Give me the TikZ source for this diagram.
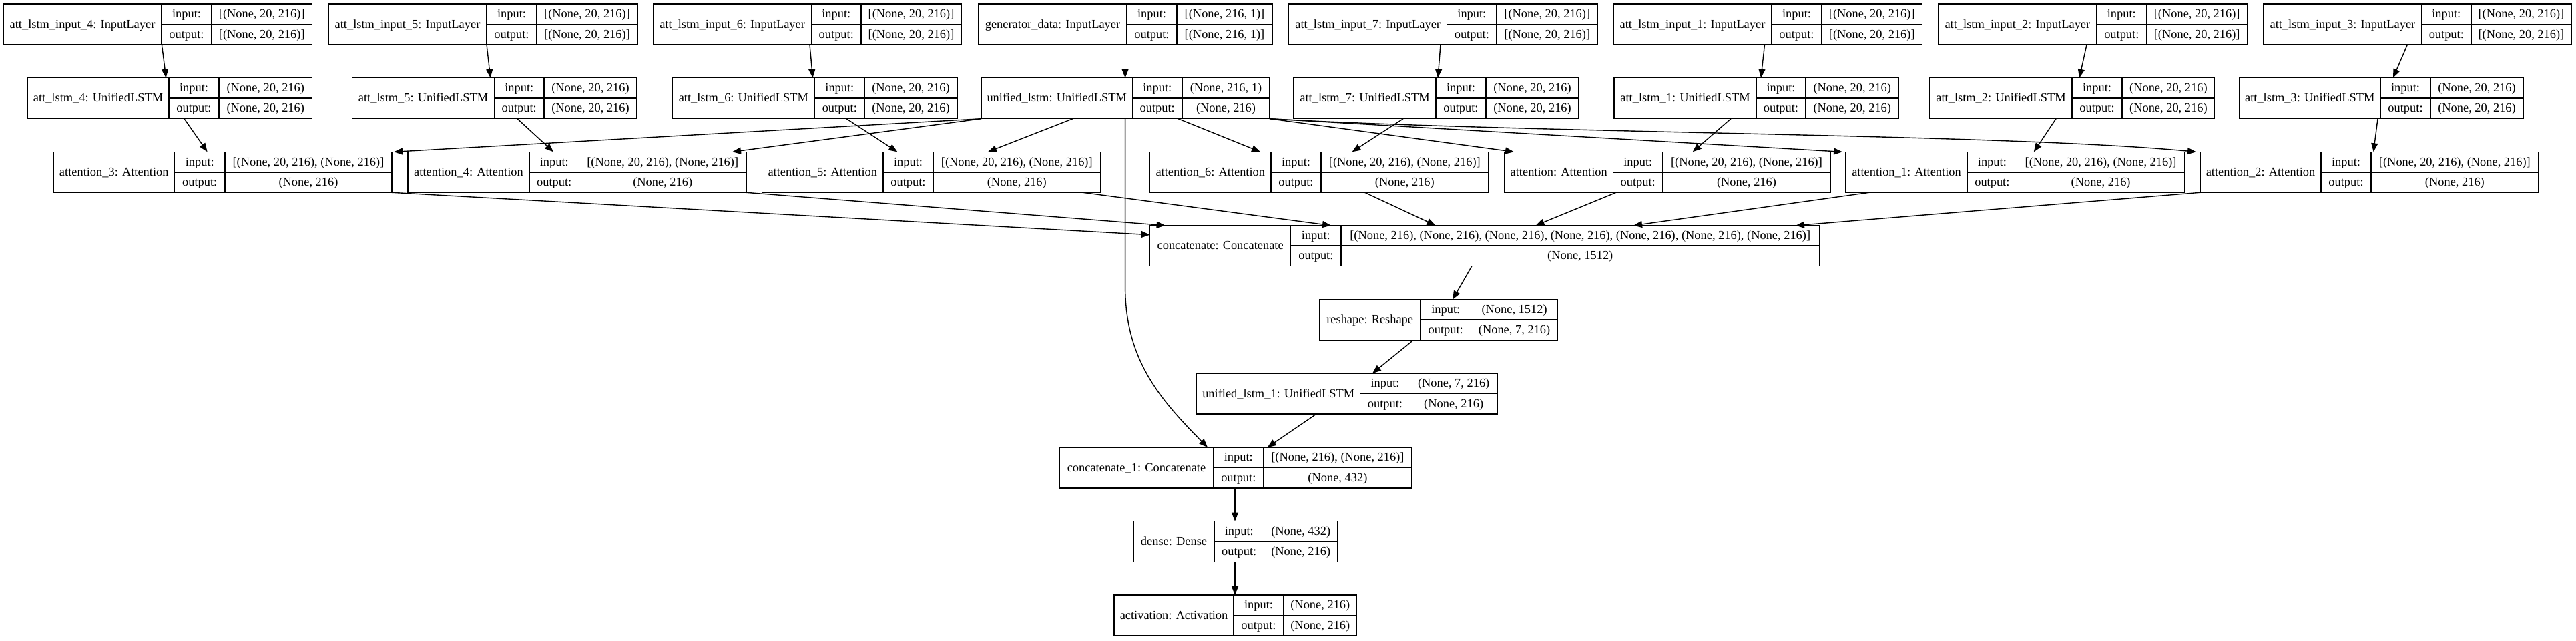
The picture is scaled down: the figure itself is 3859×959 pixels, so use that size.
\documentclass[tikz,border=0pt]{standalone}
\usepackage{fontspec}
\setmainfont{Liberation Serif}
\usetikzlibrary{arrows.meta}
\tikzset{
  recbox/.style={draw=black,line width=0.75pt,anchor=north west,minimum height=30.5pt,inner sep=0pt,outer sep=0pt},
  recline/.style={draw=black,line width=0.75pt},
  rectext/.style={font=\fontsize{9.2}{11}\selectfont,inner sep=0pt,text height=7pt,text depth=1.5pt},
  conn/.style={draw=black,line width=0.7pt,-{Triangle[length=6.5pt,width=5pt]}},
}
% id, left, div1, div2, right, top, name, input, output
\newcommand{\layer}[9]{%
  \node[recbox,minimum width={(#5-#2)*0.5pt}] (#1) at (#2,#6) {};
  \draw[recline] (#3,#6) -- (#3,{#6+61}) (#4,#6) -- (#4,{#6+61}) (#3,{#6+30.5}) -- (#5,{#6+30.5});
  \node[rectext] (#1-name) at ({(#2+#3)/2},{#6+30.5}) {#7};
  \node[rectext] (#1-inl) at ({(#3+#4)/2},{#6+15.25}) {input:};
  \node[rectext] (#1-outl) at ({(#3+#4)/2},{#6+45.75}) {output:};
  \node[rectext] (#1-in) at ({(#4+#5)/2},{#6+15.25}) {#8};
  \node[rectext] (#1-out) at ({(#4+#5)/2},{#6+45.75}) {#9};
}
\begin{document}
\begin{tikzpicture}[x=0.5pt,y=-0.5pt]
  \fill[white] (0,0) rectangle (3859,959);
  \layer{inp4}{5}{242}{317}{467.5}{6}{att\_lstm\_input\_4: InputLayer}{[(None, 20, 216)]}{[(None, 20, 216)]}
  \layer{inp5}{492}{729}{804}{955}{6}{att\_lstm\_input\_5: InputLayer}{[(None, 20, 216)]}{[(None, 20, 216)]}
  \layer{inp6}{978.6}{1215.6}{1290}{1440}{6}{att\_lstm\_input\_6: InputLayer}{[(None, 20, 216)]}{[(None, 20, 216)]}
  \layer{gen}{1466}{1688}{1763}{1906}{6}{generator\_data: InputLayer}{[(None, 216, 1)]}{[(None, 216, 1)]}
  \layer{inp7}{1930.7}{2167.7}{2242}{2393.5}{6}{att\_lstm\_input\_7: InputLayer}{[(None, 20, 216)]}{[(None, 20, 216)]}
  \layer{inp1}{2417}{2654}{2729}{2879.5}{6}{att\_lstm\_input\_1: InputLayer}{[(None, 20, 216)]}{[(None, 20, 216)]}
  \layer{inp2}{2903.7}{3141}{3215.6}{3366.7}{6}{att\_lstm\_input\_2: InputLayer}{[(None, 20, 216)]}{[(None, 20, 216)]}
  \layer{inp3}{3391}{3627.8}{3701.8}{3852}{6}{att\_lstm\_input\_3: InputLayer}{[(None, 20, 216)]}{[(None, 20, 216)]}

  \layer{lstm4}{41}{253}{328}{467.5}{116.7}{att\_lstm\_4: UnifiedLSTM}{(None, 20, 216)}{(None, 20, 216)}
  \layer{lstm5}{527.5}{740.5}{815}{954}{116.7}{att\_lstm\_5: UnifiedLSTM}{(None, 20, 216)}{(None, 20, 216)}
  \layer{lstm6}{1007}{1220.7}{1295}{1434}{116.7}{att\_lstm\_6: UnifiedLSTM}{(None, 20, 216)}{(None, 20, 216)}
  \layer{unified}{1470}{1696.5}{1771}{1902}{116.7}{unified\_lstm: UnifiedLSTM}{(None, 216, 1)}{(None, 216)}
  \layer{lstm7}{1938}{2151}{2226}{2365}{116.7}{att\_lstm\_7: UnifiedLSTM}{(None, 20, 216)}{(None, 20, 216)}
  \layer{lstm1}{2418}{2631}{2705}{2844.5}{116.7}{att\_lstm\_1: UnifiedLSTM}{(None, 20, 216)}{(None, 20, 216)}
  \layer{lstm2}{2891}{3104}{3179}{3317.7}{116.7}{att\_lstm\_2: UnifiedLSTM}{(None, 20, 216)}{(None, 20, 216)}
  \layer{lstm3}{3354.4}{3566}{3641}{3780}{116.7}{att\_lstm\_3: UnifiedLSTM}{(None, 20, 216)}{(None, 20, 216)}

  \layer{att3}{80}{261.5}{337}{587}{227.3}{attention\_3: Attention}{[(None, 20, 216), (None, 216)]}{(None, 216)}
  \layer{att4}{611}{793}{867.5}{1118}{227.3}{attention\_4: Attention}{[(None, 20, 216), (None, 216)]}{(None, 216)}
  \layer{att5}{1141.6}{1323}{1398}{1648.6}{227.3}{attention\_5: Attention}{[(None, 20, 216), (None, 216)]}{(None, 216)}
  \layer{att6}{1722.6}{1904}{1979}{2229.6}{227.3}{attention\_6: Attention}{[(None, 20, 216), (None, 216)]}{(None, 216)}
  \layer{att}{2254}{2416.5}{2491}{2742}{227.3}{attention: Attention}{[(None, 20, 216), (None, 216)]}{(None, 216)}
  \layer{att1}{2765}{2947}{3021.7}{3272.5}{227.3}{attention\_1: Attention}{[(None, 20, 216), (None, 216)]}{(None, 216)}
  \layer{att2}{3296}{3477}{3552}{3802.7}{227.3}{attention\_2: Attention}{[(None, 20, 216), (None, 216)]}{(None, 216)}

  \layer{concat}{1722.6}{1933.7}{2009}{2725.5}{337.7}{concatenate: Concatenate}{[(None, 216), (None, 216), (None, 216), (None, 216), (None, 216), (None, 216), (None, 216)]}{(None, 1512)}
  \layer{reshape}{1976.4}{2128}{2203.5}{2333.6}{448.7}{reshape: Reshape}{(None, 1512)}{(None, 7, 216)}
  \layer{ulstm1}{1792.7}{2037.7}{2112.3}{2243}{559}{unified\_lstm\_1: UnifiedLSTM}{(None, 7, 216)}{(None, 216)}
  \layer{concat1}{1587.4}{1817.6}{1893}{2114.8}{670}{concatenate\_1: Concatenate}{[(None, 216), (None, 216)]}{(None, 432)}
  \layer{dense}{1698}{1819}{1893.5}{2003.9}{780.7}{dense: Dense}{(None, 432)}{(None, 216)}
  \layer{act}{1669}{1848}{1923}{2032.6}{891}{activation: Activation}{(None, 216)}{(None, 216)}

  % inputs into the lstm layers
  \draw[conn] (inp4.south-|242.4,0) -- (lstm4.north-|248.7,0);
  \draw[conn] (inp5.south-|729,0) -- (lstm5.north-|734.7,0);
  \draw[conn] (inp6.south-|1213,0) -- (lstm6.north-|1217.5,0);
  \draw[conn] (gen.south-|1685.6,0) -- (unified.north-|1685.6,0);
  \draw[conn] (inp7.south-|2158,0) -- (lstm7.north-|2154,0);
  \draw[conn] (inp1.south-|2643.5,0) -- (lstm1.north-|2638,0);
  \draw[conn] (inp2.south-|3126,0) -- (lstm2.north-|3115,0);
  \draw[conn] (inp3.south-|3606.4,0) -- (lstm3.north-|3585,0);

  \draw[conn] (lstm4.south-|276,0) -- (att3.north-|310.6,0);
  \draw[conn] (lstm5.south-|775,0) -- (att4.north-|829,0);
  \draw[conn] (lstm6.south-|1268,0) -- (att5.north-|1344.4,0);
  \draw[conn] (lstm7.south-|2102,0) -- (att6.north-|2025.5,0);
  \draw[conn] (lstm1.south-|2593,0) -- (att.north-|2535.7,0);
  \draw[conn] (lstm2.south-|3080,0) -- (att1.north-|3046.8,0);
  \draw[conn] (lstm3.south-|3562,0) -- (att2.north-|3555.6,0);

  % unified_lstm feeds every attention
  \draw[conn] (unified.south west) -- (att3.north-|590,0);
  \draw[conn] (unified.south west) -- (att4.north-|1097,0);
  \draw[conn] (unified.south-|1607,0) -- (att5.north-|1480,0);
  \draw[conn] (unified.south-|1765,0) -- (att6.north-|1888,0);
  \draw[conn] (unified.south east) -- (att.north-|2268,0);
  \draw[conn] (unified.south east) -- (att1.north-|2760,0);
  \draw[conn] (unified.south east) .. controls (2300,200) and (3000,200) .. (att2.north-|3290,0);

  \draw[conn] (att3.south east) -- (concat.west|-0,351.7);
  \draw[conn] (att4.south east) -- (concat.north-|1745.6,0);
  \draw[conn] (att5.south-|1622,0) -- (concat.north-|1994,0);
  \draw[conn] (att6.south-|2044.6,0) -- (concat.north-|2150.6,0);
  \draw[conn] (att.south-|2421,0) -- (concat.north-|2300.5,0);
  \draw[conn] (att1.south-|2800,0) -- (concat.north-|2447,0);
  \draw[conn] (att2.south west) -- (concat.north-|2690,0);

  \draw[conn] (concat.south-|2204.8,0) -- (reshape.north-|2176,0);
  \draw[conn] (reshape.south-|2116.7,0) -- (ulstm1.north-|2056,0);
  \draw[conn] (ulstm1.south-|1972,0) -- (concat1.north-|1898.6,0);
  \draw[conn] (unified.south-|1685.6,0) -- (1685.6,430) .. controls (1685.6,540) and (1740,600) .. (concat1.north-|1809,0);
  \draw[conn] (concat1.south-|1850,0) -- (dense.north-|1850,0);
  \draw[conn] (dense.south-|1850,0) -- (act.north-|1850,0);
\end{tikzpicture}
\end{document}
